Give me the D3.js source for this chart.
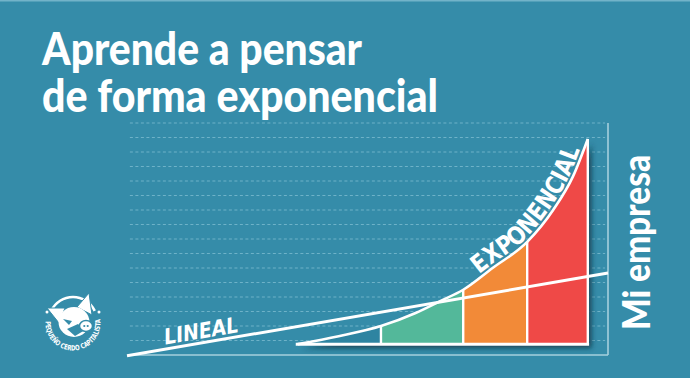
<!DOCTYPE html>
<html><head><meta charset="utf-8">
<script src="https://cdn.jsdelivr.net/npm/d3@7"></script>
<style>html,body{margin:0;padding:0;background:#358ca9;overflow:hidden}</style>
</head><body>
<svg id="c" width="690" height="378"></svg>
<script>
// ---- data ----
const titleLines = ["Aprende a pensar", "de forma exponencial"];
const axisLabel = "Mi empresa";
const linearLabel = "LINEAL";
const expLabel = "EXPONENCIAL";
const logoText = "PEQUEÑO CERDO CAPITALISTA";

const gridTicks = d3.range(1, 17);           // dashed horizontal grid levels
const expX = [35.5, 44, 52.8, 60, 65, 69.9, 76, 83.2, 88.6, 92.7, 95.8];
const expY = [0.75, 1.3, 2.0, 2.9, 3.7, 4.5, 6.0, 7.8, 10.0, 12.3, 14.9];
const linX = [0, 100];
const linY = [-0.05, 5.65];
const sectionBounds = [35.5, 52.8, 69.9, 83.2, 95.8];
const sectionColors = ["#2f84a1", "#52b89a", "#f28a37", "#ef4a46"];
const baseValue = 0.75;

// ---- setup ----
const svg = d3.select("#c");
const W = 690, H = 378;
const x = d3.scaleLinear([0, 100], [127, 608]);
const y = d3.scaleLinear([0, 16], [355, 123]);
const bg = "#358ca9";

svg.append("rect").attr("width", W).attr("height", H).attr("fill", bg);
svg.append("rect").attr("width", W).attr("height", 1.5).attr("fill", "#72b3c9");

const defs = svg.append("defs");
const f = defs.append("filter").attr("id", "shadow")
  .attr("x", "-10%").attr("y", "-10%").attr("width", "130%").attr("height", "130%");
f.append("feDropShadow").attr("dx", 4).attr("dy", 4).attr("stdDeviation", 2.5)
  .attr("flood-color", "#0b3342").attr("flood-opacity", 0.75);

// grid
svg.append("g").selectAll("line").data(gridTicks).join("line")
  .attr("x1", x(0.6)).attr("x2", x(99.4))
  .attr("y1", d => y(d)).attr("y2", d => y(d))
  .attr("stroke", "#6eb2c8").attr("stroke-width", 1)
  .attr("stroke-dasharray", "3 2.5");

// frame (right + bottom)
svg.append("line").attr("x1", x(100)).attr("x2", x(100))
  .attr("y1", y(0)).attr("y2", y(16)).attr("stroke", "#a6d0de").attr("stroke-width", 1.6);
svg.append("line").attr("x1", x(0.6)).attr("x2", x(100))
  .attr("y1", y(0)).attr("y2", y(0)).attr("stroke", "#a6d0de").attr("stroke-width", 1.6);

// exponential area sections
const pts = expX.map((v, i) => ({x: v, y: expY[i]}));
const area = d3.area().x(d => x(d.x)).y0(y(baseValue)).y1(d => y(d.y)).curve(d3.curveMonotoneX);
const line = d3.line().x(d => x(d.x)).y(d => y(d.y)).curve(d3.curveMonotoneX);

const ga = svg.append("g").attr("filter", "url(#shadow)");
sectionColors.forEach((c, i) => {
  const id = "clip" + i;
  defs.append("clipPath").attr("id", id).append("rect")
    .attr("x", x(sectionBounds[i])).attr("width", x(sectionBounds[i + 1]) - x(sectionBounds[i]))
    .attr("y", 0).attr("height", H);
  ga.append("path").datum(pts).attr("d", area).attr("fill", c).attr("clip-path", `url(#${id})`);
});

// white outlines
const gw = svg.append("g").attr("stroke", "#fff").attr("fill", "none").attr("stroke-linecap", "butt");
gw.append("path").datum(pts).attr("d", line).attr("stroke-width", 2.6);
gw.append("line").attr("x1", x(sectionBounds[0]) - 2).attr("x2", x(sectionBounds[4]) + 1.3)
  .attr("y1", y(baseValue)).attr("y2", y(baseValue)).attr("stroke-width", 3);
sectionBounds.slice(1).forEach(b => {
  const idx = expX.indexOf(b);
  gw.append("line").attr("x1", x(b)).attr("x2", x(b))
    .attr("y1", y(baseValue)).attr("y2", y(expY[idx])).attr("stroke-width", 2.4);
});

// linear line
const lpts = linX.map((v, i) => ({x: v, y: linY[i]}));
svg.append("path").datum(lpts).attr("d", d3.line().x(d => x(d.x)).y(d => y(d.y)))
  .attr("stroke", "#fff").attr("stroke-width", 3).attr("fill", "none");

// LINEAL label (sheared along line)
const condensed = "'Liberation Sans Narrow','DejaVu Sans Condensed','Roboto',sans-serif";
const ang = Math.atan2(y(linY[1]) - y(linY[0]), x(linX[1]) - x(linX[0])) * 180 / Math.PI;
const lx = 164;
const lyOnLine = y(linY[0]) + (lx - x(linX[0])) * Math.tan(ang * Math.PI / 180);
svg.append("text").text(linearLabel)
  .attr("transform", `translate(${lx},${lyOnLine - 4.5}) skewY(${ang})`)
  .attr("font-family", condensed)
  .attr("font-weight", 700).attr("font-size", 22).attr("fill", "#fff")
  .attr("textLength", 74).attr("lengthAdjust", "spacingAndGlyphs");

// EXPONENCIAL label along the curve
const tp = defs.append("path").attr("id", "expPath").datum(pts).attr("d", line);
const node = tp.node();
const total = node.getTotalLength();
let lo = 0, hi = total;
for (let k = 0; k < 40; k++) { const m = (lo + hi) / 2; if (node.getPointAtLength(m).x < 481) lo = m; else hi = m; }
svg.append("text")
  .attr("font-family", condensed)
  .attr("font-weight", 700).attr("font-size", 25).attr("fill", "#fff")
  .append("textPath").attr("href", "#expPath").attr("startOffset", lo)
  .attr("textLength", 166).attr("lengthAdjust", "spacingAndGlyphs")
  .append("tspan").attr("dy", -3.5).text(expLabel);

// title (one text, two lines)
const tf = "'Lato','Open Sans',sans-serif";
const tW = [320, 396], tY = [65, 112];
const tt = svg.append("text").attr("font-family", tf).attr("font-weight", 900)
  .attr("font-size", 45).attr("fill", "#fff");
titleLines.forEach((t, i) => {
  tt.append("tspan").text(t).attr("x", 42).attr("y", tY[i])
    .attr("textLength", tW[i]).attr("lengthAdjust", "spacingAndGlyphs");
});

// vertical axis label
svg.append("text").text(axisLabel)
  .attr("transform", "translate(650,330) rotate(-90)")
  .attr("font-family", tf).attr("font-weight", 900).attr("font-size", 38)
  .attr("fill", "#fff").attr("textLength", 175).attr("lengthAdjust", "spacingAndGlyphs");

// logo
const lg = svg.append("g").attr("transform", "translate(73,321)");
const rr = 24;
const a0 = 205 * Math.PI / 180, a1 = 335 * Math.PI / 180;
lg.append("path")
  .attr("d", `M${rr * Math.cos(a0)},${rr * Math.sin(a0)} A${rr},${rr} 0 0 1 ${rr * Math.cos(a1)},${rr * Math.sin(a1)}`)
  .attr("fill", "none").attr("stroke", "#fff").attr("stroke-width", 2.6);
const rt = 27.5;
const s0 = 170 * Math.PI / 180, s1 = 10 * Math.PI / 180;
defs.append("path").attr("id", "logoArc")
  .attr("d", `M${rt * Math.cos(s0)},${rt * Math.sin(s0)} A${rt},${rt} 0 1 0 ${rt * Math.cos(s1)},${rt * Math.sin(s1)}`)
  .attr("transform", "scale(1,1)");
// path above goes via bottom? (sweep 0 from left to right passes through top in screen coords) -> use explicit bottom arc
defs.select("#logoArc")
  .attr("d", `M${rt * Math.cos(s0)},${-rt * Math.sin(s0) + 2} A${rt},${rt} 0 1 0 ${rt * Math.cos(s1)},${-rt * Math.sin(s1) + 2}`);
lg.append("text").attr("font-family", condensed)
  .attr("font-weight", 700).attr("font-size", 7.2).attr("fill", "#fff")
  .append("textPath").attr("href", "#logoArc").attr("startOffset", 3)
  .attr("textLength", 92).attr("lengthAdjust", "spacingAndGlyphs").text(logoText);
lg.append("circle").attr("cx", -26).attr("cy", -9).attr("r", 1.5).attr("fill", "#fff");
lg.append("circle").attr("cx", 26).attr("cy", -9).attr("r", 1.5).attr("fill", "#fff");
// pig head
lg.append("path").attr("d", "M-8,-13 L-26,-13 L-14,2 Z").attr("fill", "#fff").attr("stroke", bg).attr("stroke-width", 1);
lg.append("path").attr("d", "M4,-14 L16,-28 L19,-6 Z").attr("fill", "#fff").attr("stroke", bg).attr("stroke-width", 1);
lg.append("ellipse").attr("cx", 1).attr("cy", 1).attr("rx", 15.5).attr("ry", 15).attr("fill", "#fff");
lg.append("path").attr("d", "M-10,-2 L-1,0 L-4,4 Z").attr("fill", bg);
lg.append("path").attr("d", "M-6,8 L5,3 L12,9 L2,15 Z").attr("fill", bg);
lg.append("ellipse").attr("cx", 13).attr("cy", 5).attr("rx", 6.5).attr("ry", 5.5)
  .attr("fill", "#fff").attr("stroke", bg).attr("stroke-width", 1.5);
lg.append("circle").attr("cx", 11.3).attr("cy", 5).attr("r", 1.1).attr("fill", bg);
lg.append("circle").attr("cx", 14.7).attr("cy", 5).attr("r", 1.1).attr("fill", bg);
</script>
</body></html>
